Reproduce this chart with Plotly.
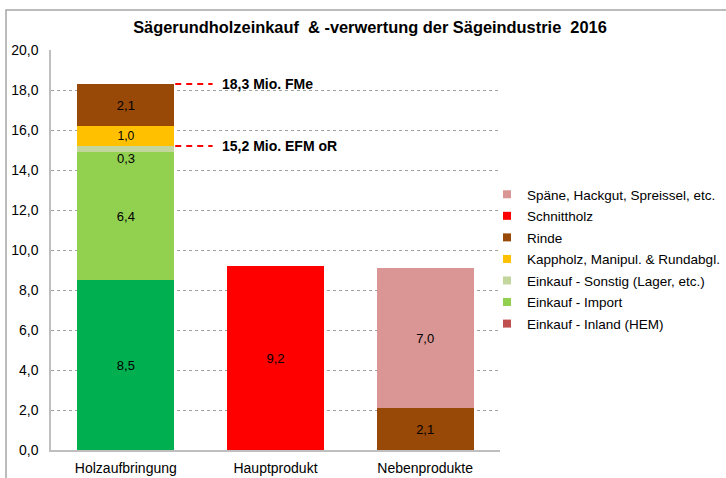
import plotly.graph_objects as go

categories = ["Holzaufbringung", "Hauptprodukt", "Nebenprodukte"]

inland = [8.5, None, None]
importe = [6.4, None, None]
sonstig = [0.3, None, None]
kappholz = [1.0, None, None]
rinde = [2.1, None, 2.1]
schnittholz = [None, 9.2, None]
spaene = [None, None, 7.0]

total_fme = 18.3
total_efm = 15.2
label_fme = "18,3 Mio. FMe"
label_efm = "15,2 Mio. EFM oR"

series = [
    ("Einkauf - Inland (HEM)", inland, "#00B050", "#C0504D"),
    ("Einkauf - Import", importe, "#92D050", "#92D050"),
    ("Einkauf - Sonstig (Lager, etc.)", sonstig, "#C3D69B", "#C3D69B"),
    ("Kappholz, Manipul. & Rundabgl.", kappholz, "#FFC000", "#FFC000"),
    ("Rinde", rinde, "#984807", "#984807"),
    ("Schnittholz", schnittholz, "#FF0000", "#FF0000"),
    ("Späne, Hackgut, Spreissel, etc.", spaene, "#D99694", "#D99694"),
]

FONT = "Liberation Sans, Arial, sans-serif"
fig = go.Figure()

n = len(series)
for i, (name, vals, color, legcolor) in enumerate(series):
    texts = []
    for v in vals:
        if v is None or name.startswith("Einkauf - Sonstig"):
            texts.append("")
        else:
            texts.append(f"{v:.1f}".replace(".", ","))
    fig.add_trace(go.Bar(
        x=categories, y=vals, name=name, marker_color=color,
        marker_line_width=0, text=texts, textposition="inside",
        insidetextanchor="middle", textangle=0,
        textfont=dict(family=FONT, size=13, color="black"),
        showlegend=False, hoverinfo="skip", cliponaxis=False,
    ))
    # legend entry
    fig.add_trace(go.Scatter(
        x=[None], y=[None], mode="markers", name=name,
        marker=dict(symbol="square", size=8, color=legcolor),
        legendrank=n - i, legendgroup=f"g{n - i}", showlegend=True,
    ))

# label for the thin "Sonstig" band, placed just below it
base_sonstig = inland[0] + importe[0]
fig.add_annotation(x=categories[0], y=base_sonstig, yanchor="top", yshift=3,
                   text=f"{sonstig[0]:.1f}".replace(".", ","), showarrow=False,
                   font=dict(family=FONT, size=13, color="black"))

# dashed reference lines and labels
for val, lab in [(total_fme, label_fme), (total_efm, label_efm)]:
    fig.add_shape(type="line", xref="x", yref="y", x0=0.33, x1=0.58, y0=val, y1=val,
                  line=dict(color="#FF0000", width=2, dash="6px,5px"))
    fig.add_annotation(x=0.63, y=val, xref="x", yref="y", xanchor="left",
                       text=f"<b>{lab}</b>", showarrow=False,
                       font=dict(family=FONT, size=14, color="black"))

# outer chart frame (left and top visible)
L, R, T, B = 51, 226, 50, 28
W, H = 726, 478
pw, ph = W - L - R, H - T - B
def px(x):
    return (x - L) / pw
def py(y):
    return (H - B - y) / ph
fig.add_shape(type="rect", xref="paper", yref="paper",
              x0=px(6), x1=px(740), y0=py(10), y1=py(490),
              line=dict(color="#A6A6A6", width=1.5), layer="below")

fig.update_layout(
    width=W, height=H,
    margin=dict(l=L, r=R, t=T, b=B, autoexpand=False),
    barmode="stack", bargap=0.35,
    separators=",.",
    paper_bgcolor="white", plot_bgcolor="white",
    title=dict(text="<b>Sägerundholzeinkauf\u00a0 & -verwertung der Sägeindustrie\u00a0 2016</b>",
               x=370 / W, xref="container", xanchor="center", y=1 - 27 / H, yanchor="middle",
               font=dict(family=FONT, size=16.4, color="black")),
    font=dict(family=FONT, size=13, color="black"),
    legend=dict(x=px(487), y=py(179), xanchor="left", yanchor="top",
                traceorder="grouped",
                font=dict(family=FONT, size=13.5, color="black"),
                bgcolor="rgba(0,0,0,0)", itemwidth=30, tracegroupgap=1),
    xaxis=dict(showgrid=False, showline=True, linecolor="#BFBFBF", linewidth=1.5,
               ticks="", tickfont=dict(size=14), ticklabelstandoff=4, range=[-0.5, 2.5]),
    yaxis=dict(range=[0, 20], dtick=2, tickformat=".1f", showgrid=True,
               gridcolor="#A0A0A0", griddash="dot", gridwidth=1,
               showline=True, linecolor="#BFBFBF", linewidth=1.5,
               ticks="", ticklabelstandoff=8, tickfont=dict(size=14),
               zeroline=False),
)

fig.write_html("out.html", config={"displayModeBar": False},
               post_script="document.body.style.margin='0';")
